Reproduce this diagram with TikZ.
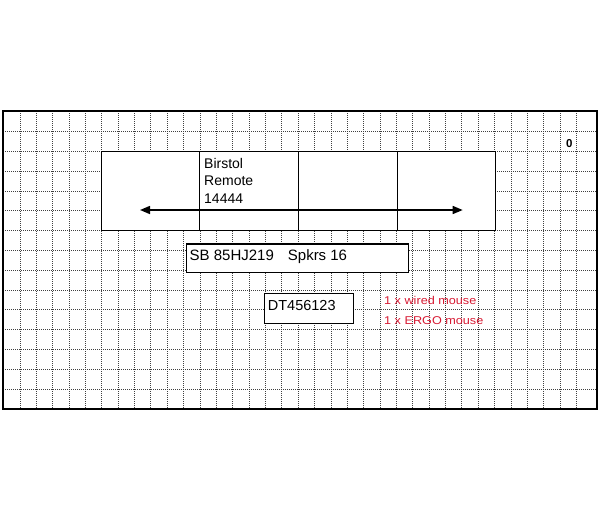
\documentclass[tikz,border=0pt]{standalone}
\usepackage{fontspec}
\setmainfont{Liberation Sans}
\usetikzlibrary{arrows.meta,calc}
\definecolor{notered}{RGB}{215,25,50}
\tikzset{
  gridline/.style={draw=black!75, line width=1pt, dash pattern=on 1pt off 1pt},
  frameline/.style={draw=black, line width=2.4pt},
  box/.style={draw=black, fill=white, line width=1.2pt, rectangle, inner sep=0pt},
  divider/.style={draw=black, line width=1.1pt},
  label/.style={inner sep=0pt, anchor=base west, font=\fontsize{14}{16}\selectfont},
  note/.style={inner sep=0pt, anchor=base west, text=notered, font=\fontsize{11.3}{13}\selectfont},
  arrowline/.style={draw=black, line width=1.5pt, {Triangle[length=10pt,width=8pt]}-{Triangle[length=10pt,width=8pt]}}
}
\begin{document}
\begin{tikzpicture}[x=1pt,y=-1pt]
\useasboundingbox (0,0) rectangle (600,520);
\fill[white] (0,0) rectangle (600,520);
% grid
\foreach \i in {0,...,34} \draw[gridline] ({20+16.37*\i},111) -- ({20+16.37*\i},409);
\foreach \j in {0,...,13} \draw[gridline] (3,{131.7+19.8*\j}) -- (597,{131.7+19.8*\j});
\draw[frameline] (3,111) rectangle (597,409);
% big box
\node[box, minimum width=394pt, minimum height=78.5pt] (board) at (298.7,191) {};
\foreach \f in {0.25,0.5,0.75}
  \draw[divider] ($(board.north west)!\f!(board.north east)$) -- ($(board.south west)!\f!(board.south east)$);
\node[label] (b1) at (204,168.3) {Birstol};
\node[label] (b2) at (204,185.8) {Remote};
\node[label] (b3) at (204,203.3) {14444};
\coordinate (al) at (140,210);
\coordinate (ar) at (462.7,210);
\draw[arrowline] (al) -- (ar);
% SB box
\node[box, minimum width=222pt, minimum height=28.3pt] (sb) at (297.7,258.2) {};
\node[label, font=\fontsize{15}{17}\selectfont] (sbt) at (189.5,260.5) {SB 85HJ219\hspace{14pt}Spkrs 16};
% DT box
\node[box, minimum width=89.4pt, minimum height=30pt] (dt) at (309,308.3) {};
\node[label, font=\fontsize{14.5}{17}\selectfont] (dtt) at (267.7,310) {DT456123};
% notes
\node[note] (n1) at (384,304.3) {\scalebox{1.12}[1]{1 x wired mouse}};
\node[note] (n2) at (384,324) {\scalebox{1.12}[1]{1 x ERGO mouse}};
% zero
\node[inner sep=0pt, font=\fontsize{11.5}{13}\selectfont\bfseries] (zero) at (569.3,143.3) {0};
\end{tikzpicture}
\end{document}
